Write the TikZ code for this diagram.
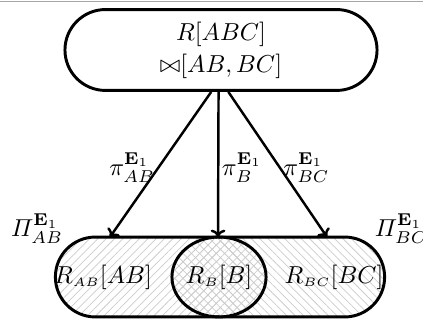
\documentclass[tikz,border=0pt]{standalone}
\usepackage{amsmath, amssymb}
\usepackage{tikz}
\usetikzlibrary{arrows.meta, positioning, shapes.misc, shapes.geometric, patterns.meta}

\tikzset{
  joinbox/.style={draw, rounded rectangle, minimum width=134pt, minimum height=33pt, align=center},
  hatchne/.style={pattern={Lines[angle=45, distance=2.4pt, line width=0.3pt]}, pattern color=gray!40},
  hatchnw/.style={pattern={Lines[angle=-45, distance=2.4pt, line width=0.3pt]}, pattern color=gray!40},
  projbox/.style={draw, rounded rectangle, minimum width=141pt, minimum height=32.6pt,
    path picture={
      \fill[hatchne] (path picture bounding box.north west) rectangle (path picture bounding box.south);
      \fill[hatchnw] (path picture bounding box.north) rectangle (path picture bounding box.south east);
    }},
  overlapbox/.style={draw, ellipse, minimum width=37.5pt, minimum height=32.6pt, inner sep=0pt, hatchne,
    path picture={
      \fill[hatchnw] (path picture bounding box.north west) rectangle (path picture bounding box.south east);
    }},
}

\begin{document}
\begin{tikzpicture}[x=0.408pt, y=-0.408pt, line width=1.2pt]
  \useasboundingbox (0,0) rectangle (423,320);
  % Rule
  \draw[gray!70, line width=0.4pt] (0,2) -- (423,2);
  % Join of the projections
  \node[joinbox] (join) at (221,50) {$R[ABC]$\\[1pt] $\mathord{\bowtie}[AB,BC]$};
  % Projections
  \node[projbox] (proj) at (220,277) {};
  \node[overlapbox] (rb) at (219,277) {$R_{\scriptscriptstyle B}[B]$};
  \node (rab) at (103,277) {$R_{\scriptscriptstyle AB}[AB]$};
  \node (rbc) at (334,277) {$R_{\scriptscriptstyle BC}[BC]$};
  \node (pab) at (37,229) {$\varPi^{\mathbf{E}_1}_{AB}$};
  \node (pbc) at (401,229) {$\varPi^{\mathbf{E}_1}_{BC}$};
  % Arrow ends
  \coordinate (eab) at (110,237);
  \coordinate (eb) at (218,237);
  \coordinate (ebc) at (327,237);
  % Arrows
  \draw[-{To[length=3pt, width=6pt]}, line width=1pt] ([xshift=-4pt]join.south) -- (eab)
    node[pos=0.52, left, inner sep=1pt] {$\pi^{\mathbf{E}_1}_{AB}$};
  \draw[-{To[length=3pt, width=6pt]}, line width=1pt] ([xshift=-1pt]join.south) -- (eb)
    node[pos=0.52, right, inner sep=1pt] {$\pi^{\mathbf{E}_1}_{B}$};
  \draw[-{To[length=3pt, width=6pt]}, line width=1pt] ([xshift=3pt]join.south) -- (ebc)
    node[pos=0.52, right, inner sep=1pt] {$\pi^{\mathbf{E}_1}_{BC}$};
\end{tikzpicture}
\end{document}
